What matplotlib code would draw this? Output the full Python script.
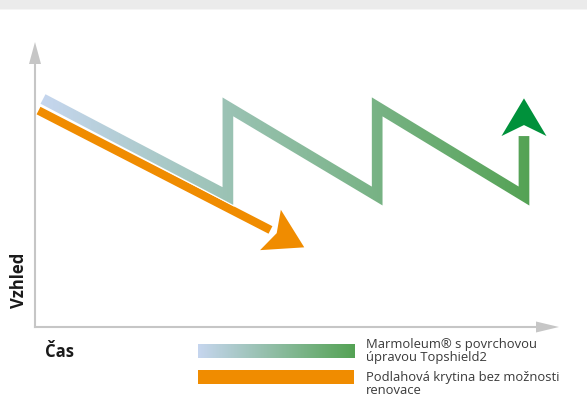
import numpy as np
import matplotlib
matplotlib.use('Agg')
import matplotlib.pyplot as plt
from matplotlib.patches import Polygon, Rectangle
from matplotlib.transforms import Bbox, IdentityTransform
from matplotlib.colors import LinearSegmentedColormap

# schematic values: time on x, appearance on y (0-100 scale)
marmoleum_time = [1.6, 38.5, 38.5, 68.3, 68.3, 97.6, 97.6]
marmoleum_look = [86.7, 49.8, 83.7, 49.8, 83.7, 49.8, 72.6]
other_time = [0.7, 47.0]
other_look = [82.3, 36.9]

y_label = 'Vzhled'
x_label = 'Čas'
legend_labels = ['Marmoleum® s povrchovou\núpravou Topshield2',
                 'Podlahová krytina bez možnosti\nrenovace']

GRAY = '#c6c6c6'
ORANGE = '#f08c00'
DARK_GREEN = '#00913b'
grad = LinearSegmentedColormap.from_list('marmo', ['#c6d6ef', '#54a254'])

plt.rcParams['font.family'] = ['Open Sans', 'DejaVu Sans']

W, H = 587, 419
fig = plt.figure(figsize=(W / 100, H / 100), dpi=100)


def fx(px):
    return px / W


def fy(py):
    return 1 - py / H


# grey band at the top
fig.add_artist(Rectangle((0, fy(9)), 1, 9 / H, transform=fig.transFigure,
                         color='#ebebeb', lw=0))
fig.add_artist(Rectangle((0, fy(10)), 1, 1 / H, transform=fig.transFigure,
                         color='#f5f5f5', lw=0))

ax = fig.add_axes([fx(35), fy(327), (536 - 35) / W, (327 - 64) / H])
ax.set_xlim(0, 100)
ax.set_ylim(0, 100)
ax.set_xticks([])
ax.set_yticks([])
ax.patch.set_visible(False)
for s in ['top', 'right']:
    ax.spines[s].set_visible(False)
for s in ['left', 'bottom']:
    ax.spines[s].set_color(GRAY)
    ax.spines[s].set_linewidth(1.5)


def arrow_head(x0, y0, x1, y1, color, length, half, notch, z=5):
    # head base sits on (x1, y1), pointing along the segment; sizes in pixels
    p0 = ax.transData.transform((x0, y0))
    p1 = ax.transData.transform((x1, y1))
    d = (p1 - p0) / np.hypot(*(p1 - p0))
    n = np.array([-d[1], d[0]])
    pts = [p1 + d * length, p1 + n * half, p1 + d * notch, p1 - n * half]
    ax.add_patch(Polygon(pts, closed=True, transform=IdentityTransform(),
                         facecolor=color, edgecolor='none', zorder=z,
                         clip_on=False))


# axis arrows
arrow_head(0, 0, 0, 100, GRAY, 22, 6, 0)
arrow_head(0, 0, 100, 0, GRAY, 23, 5.5, 0)

# floor without renovation
ax.plot(other_time, other_look, color=ORANGE, lw=6.1,
        solid_capstyle='butt', zorder=2)
arrow_head(other_time[0], other_look[0], other_time[-1], other_look[-1],
           ORANGE, 38, 22.7, 7)

# Marmoleum zigzag with a horizontal colour gradient
ax.plot(marmoleum_time, marmoleum_look, color='white', lw=9.4,
        solid_joinstyle='miter', solid_capstyle='butt', zorder=3)
disp = ax.transData.transform(np.column_stack([marmoleum_time, marmoleum_look]))
x_lo, x_hi = disp[:, 0].min() - 6, disp[:, 0].max() + 6
step = 2
for px in range(int(x_lo), int(x_hi) + 1, step):
    c = grad(min(max((px - x_lo) / (x_hi - x_lo), 0), 1))
    ln, = ax.plot(marmoleum_time, marmoleum_look, color=c, lw=7.7,
                  solid_joinstyle='miter', solid_capstyle='butt', zorder=4)
    ln.set_clip_box(Bbox([[px, 0], [px + step, H]]))
arrow_head(marmoleum_time[-2], marmoleum_look[-2], marmoleum_time[-1],
           marmoleum_look[-1], DARK_GREEN, 37.7, 22.5, 11)

# axis labels
fig.text(fx(19), fy(280), y_label, rotation=90, ha='center', va='center',
         fontsize=12, fontweight='bold', color='#1a1a1a')
fig.text(fx(45), fy(357), x_label, ha='left', va='baseline',
         fontsize=12, fontweight='bold', color='#1a1a1a')

# legend
lax = fig.add_axes([fx(198), fy(358), (355 - 198) / W, 14 / H])
lax.imshow(np.linspace(0, 1, 256)[None, :], cmap=grad, aspect='auto')
lax.axis('off')
fig.add_artist(Rectangle((fx(198), fy(384)), (354 - 198) / W, 14 / H,
                         transform=fig.transFigure, color=ORANGE, lw=0))

# baseline of the last line of each two-line label
for label, base in zip(legend_labels, [361, 394]):
    fig.text(fx(366), fy(base), label, ha='left', va='baseline',
             fontsize=9.4, linespacing=0.98, color='#3a3a3a')

fig.savefig('out.png', dpi=100)
